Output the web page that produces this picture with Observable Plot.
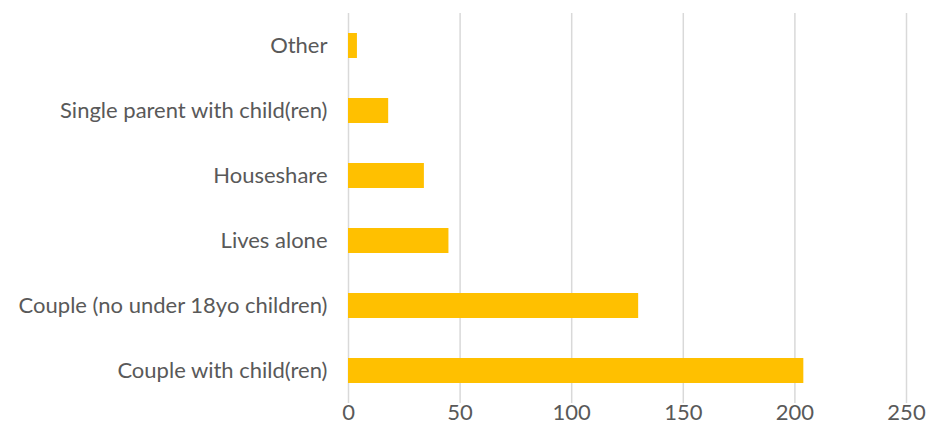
<!DOCTYPE html>
<html><head><meta charset="utf-8">
<script src="https://cdn.jsdelivr.net/npm/d3@7"></script>
<script src="https://cdn.jsdelivr.net/npm/@observablehq/plot@0.6"></script>
<style>
body{margin:0;background:#fff;overflow:hidden}
#chart svg text{font-family:Lato, sans-serif;font-size:22px;fill:#595959}
</style>
</head><body><div id="chart"></div>
<script>
const categories = ["Other","Single parent with child(ren)","Houseshare","Lives alone","Couple (no under 18yo children)","Couple with child(ren)"];
const values = [4, 18, 34, 45, 130, 204];
const xTicks = [0, 50, 100, 150, 200, 250];
const data = categories.map((c, i) => ({category: c, value: values[i]}));

const chart = Plot.plot({
  width: 929, height: 446,
  marginLeft: 348, marginRight: 23, marginTop: 13, marginBottom: 43,
  style: {fontFamily: "Lato, sans-serif", fontSize: "22px", color: "#595959", background: "#fff"},
  x: {domain: [0, 250], ticks: xTicks, label: null},
  y: {domain: categories, label: null, paddingInner: 0.62, paddingOuter: 0.31, align: 0.5},
  marks: [
    Plot.ruleX(xTicks, {stroke: "#D9D9D9", strokeWidth: 1.5, strokeOpacity: 1}),
    Plot.barX(data, {x: "value", y: "category", fill: "#FFC000"}),
    Plot.axisX(xTicks, {tickSize: 0, tickPadding: 1, label: null}),
    Plot.axisY({tickSize: 0, tickPadding: 21, label: null})
  ]
});
document.getElementById("chart").appendChild(chart);
</script></body></html>
